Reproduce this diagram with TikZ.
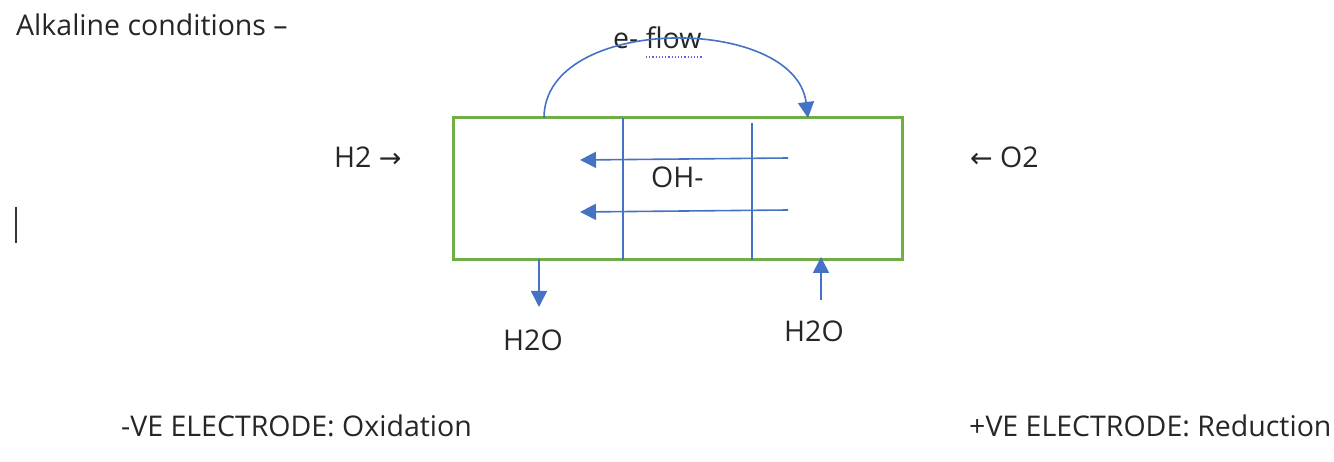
\documentclass[tikz,border=0pt]{standalone}
\usepackage{fontspec}
\setmainfont{Open Sans}
\newfontfamily\arrowfont{DejaVu Sans}
\usetikzlibrary{arrows.meta}
\definecolor{cellgreen}{HTML}{70AD47}
\definecolor{flowblue}{HTML}{4472C4}
\definecolor{spellblue}{HTML}{6060E0}
\tikzset{
  lbl/.style={inner sep=0pt, anchor=base west, font=\fontsize{28.5}{34}\selectfont, text=black!85},
  bluel/.style={draw=flowblue, line width=1.6pt},
  bluearr/.style={bluel, -{Triangle[length=16pt,width=16pt]}},
}
\begin{document}
\begin{tikzpicture}[x=1pt,y=-1pt]
\useasboundingbox (0,0) rectangle (1334,462);
% labels
\node[lbl] (title) at (16,36) {Alkaline conditions –};
\node[lbl] (h2) at (334,168) {H2 {\arrowfont\fontsize{27}{32}\selectfont →}};
\node[lbl] (o2) at (970,168) {{\arrowfont\fontsize{27}{32}\selectfont ←} O2};
\node[lbl] (oh) at (651,188) {OH-};
\node[lbl] (eflow) at (613,49) {e- flow};
\node[lbl] (h2oL) at (503,351) {H2O};
\node[lbl] (h2oR) at (784,342) {H2O};
\node[lbl] (neg) at (121,436) {-VE ELECTRODE: Oxidation};
\node[lbl] (pos) at (969,436) {+VE ELECTRODE: Reduction};
% text cursor
\coordinate (curA) at (16,207);
\coordinate (curB) at (16,243);
\draw[line width=1.5pt, black!80] (curA) -- (curB);
% spell-check underline
\coordinate (spA) at (646,57);
\coordinate (spB) at (703,57);
\draw[spellblue, line width=1.2pt, dotted] (spA) -- (spB);
% cell
\node[draw=cellgreen, line width=3pt, minimum width=449pt, minimum height=142pt, inner sep=0pt] (cell) at (677.5,189) {};
% membranes
\coordinate (m1t) at (623,118); \coordinate (m1b) at (623,260);
\coordinate (m2t) at (752,123); \coordinate (m2b) at (752,260);
\draw[bluel] (m1t) -- (m1b);
\draw[bluel] (m2t) -- (m2b);
% OH- arrows
\coordinate (o1s) at (788,158); \coordinate (o1e) at (580,160);
\coordinate (o2s) at (788,210); \coordinate (o2e) at (580,212);
\draw[bluearr] (o1s) -- (o1e);
\draw[bluearr] (o2s) -- (o2e);
% electron flow arc
\coordinate (eS) at (544,118);
\coordinate (eE) at (808,118);
\draw[bluearr] (eS) .. controls (544,14) and (795,14) .. (eE);
% water arrows
\coordinate (wLs) at (539,259); \coordinate (wLe) at (539,307);
\coordinate (wRs) at (821,300); \coordinate (wRe) at (821,257);
\draw[bluearr] (wLs) -- (wLe);
\draw[bluearr] (wRs) -- (wRe);
\end{tikzpicture}
\end{document}
